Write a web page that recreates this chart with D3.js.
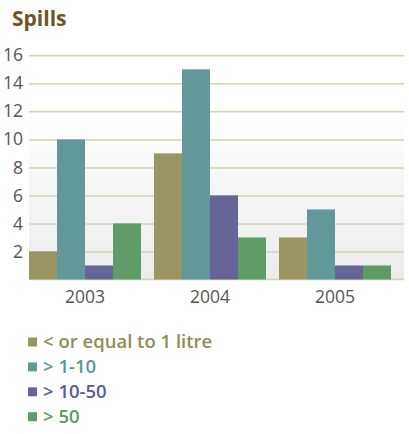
<!DOCTYPE html>
<html><head><meta charset="utf-8">
<script src="https://cdn.jsdelivr.net/npm/d3@7"></script>
<style>body{margin:0;background:#fff;} svg{display:block;font-family:"Open Sans",Lato,sans-serif;}</style>
</head><body>
<svg id="c" width="409" height="434"></svg>
<script>
const years = ["2003","2004","2005"];
const seriesNames = ["< or equal to 1 litre","> 1-10","> 10-50","> 50"];
const seriesColors = ["#9a9563","#62989a","#656597","#5f9b66"];
const textColors = ["#8f8c58","#5a9896","#5b5b94","#5a9a5e"];
const values = [
  [2, 10, 1, 4],
  [9, 15, 6, 3],
  [3, 5, 1, 1]
];
const yTicks = [2,4,6,8,10,12,14,16];

(function(){
const svg = d3.select("#c");
const defs = svg.append("defs");
const grad = defs.append("linearGradient").attr("id","bg").attr("x1",0).attr("y1",0).attr("x2",0).attr("y2",1);
grad.append("stop").attr("offset","0%").attr("stop-color","#ffffff");
grad.append("stop").attr("offset","100%").attr("stop-color","#ebebeb");

const mLeft = 29, mRight = 404, mTop = 55.3, mBottom = 279.5;
const y = d3.scaleLinear().domain([0,16]).range([mBottom, mTop]);
const x0 = d3.scaleBand().domain(years).range([mLeft, 391]).paddingInner(0.104).paddingOuter(0);
const x1 = d3.scaleBand().domain(d3.range(4)).range([0, x0.bandwidth()]).padding(0);

svg.append("rect").attr("x",mLeft).attr("y",y(12)).attr("width",mRight-mLeft).attr("height",mBottom-y(12)).attr("fill","url(#bg)");

svg.append("text").attr("x",12).attr("y",26).attr("font-size",21).attr("font-weight","bold").attr("fill","#6d5526").text("Spills");

const yAxis = svg.append("g").attr("transform",`translate(${mLeft},0)`)
  .call(d3.axisLeft(y).tickValues(yTicks).tickSize(-(mRight-mLeft)).tickPadding(6).tickFormat(d3.format("d")));
yAxis.select(".domain").remove();
yAxis.selectAll("line").attr("stroke","#cdd7ae").attr("stroke-width",1.5);
yAxis.selectAll("text").attr("font-size",17.5).attr("fill","#555").attr("font-family","'Open Sans',sans-serif");

svg.append("line").attr("x1",mLeft).attr("x2",mRight).attr("y1",mBottom).attr("y2",mBottom).attr("stroke","#cdd7ae").attr("stroke-width",1.5);

const groups = svg.append("g").selectAll("g").data(years).join("g")
  .attr("transform", d => `translate(${x0(d)},0)`);
groups.selectAll("rect").data((d,i) => values[i].map((v,j)=>({v,j}))).join("rect")
  .attr("x", d => x1(d.j)).attr("width", x1.bandwidth())
  .attr("y", d => y(d.v)).attr("height", d => y(0)-y(d.v))
  .attr("fill", d => seriesColors[d.j]);

const xAxis = svg.append("g").attr("transform",`translate(0,${mBottom})`)
  .call(d3.axisBottom(x0).tickSize(0).tickPadding(11));
xAxis.select(".domain").remove();
xAxis.selectAll("text").attr("font-size",17.5).attr("fill","#555").attr("font-family","'Open Sans',sans-serif");

const leg = svg.append("g").selectAll("g").data(seriesNames).join("g")
  .attr("transform",(d,i)=>`translate(28,${342 + i*24.9})`);
leg.append("rect").attr("x",0).attr("y",-4.5).attr("width",9).attr("height",9).attr("fill",(d,i)=>seriesColors[i]);
leg.append("text").attr("x",15).attr("y",0).attr("dy","0.35em").attr("font-size",18.5).attr("font-weight",600)
  .attr("fill",(d,i)=>textColors[i]).text(d=>d);
})();
</script>
</body></html>
